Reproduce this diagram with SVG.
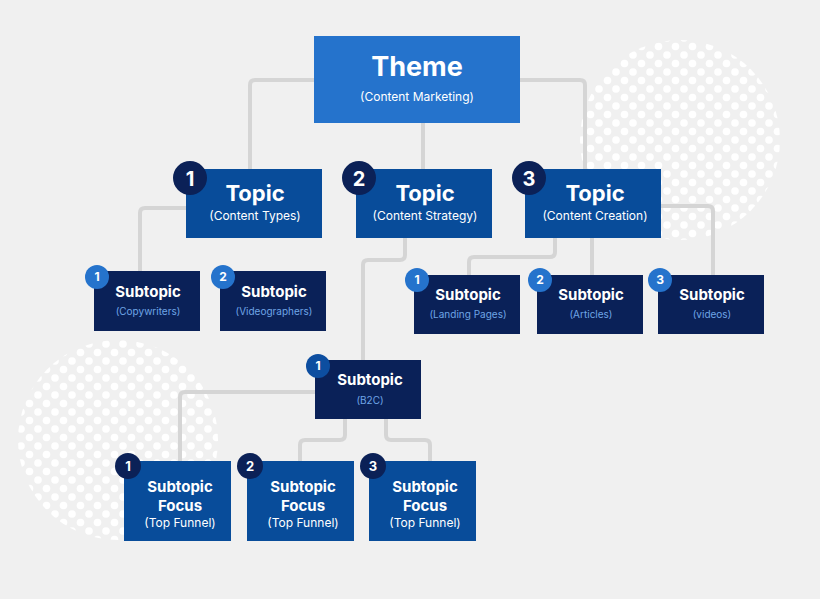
<svg xmlns="http://www.w3.org/2000/svg" width="820" height="599" viewBox="0 0 820 599">
<style>
.c{fill:none;stroke:#d5d5d5;stroke-width:4;stroke-linejoin:round}
.t{font-family:Inter,"Liberation Sans",sans-serif;fill:#fff;text-anchor:middle;font-weight:700}
.s{font-family:Inter,"Liberation Sans",sans-serif;fill:#fff;text-anchor:middle;font-size:12px}
.l{font-family:Inter,"Liberation Sans",sans-serif;fill:#6fa5e6;text-anchor:middle;font-size:10px}
.n{font-family:Inter,"Liberation Sans",sans-serif;fill:#fff;text-anchor:middle;font-weight:700}
.topic{fill:#084c9a}.sub{fill:#0a2158}.dk{fill:#0b2157}.bl{fill:#2573cc}
</style>
<defs>
<pattern id="dots" width="17" height="17" patternUnits="userSpaceOnUse">
<circle cx="4" cy="4" r="3.8" fill="#fff"/><circle cx="12.5" cy="12.5" r="3.8" fill="#fff"/>
</pattern>
</defs>
<rect width="820" height="599" fill="#f0f0f0"/>
<circle cx="680" cy="140" r="100" fill="url(#dots)"/>
<circle cx="118" cy="440" r="100" fill="url(#dots)"/>
<g id="connectors">
<path class="c" d="M314 80 H255 Q250 80 250 85 V169"/>
<path class="c" d="M520 80 H580 Q585 80 585 85 V169"/>
<path class="c" d="M423 123 V169"/>
<path class="c" d="M186 208 H145 Q140 208 140 213 V271"/>
<path class="c" d="M405 238 V255 Q405 260 400 260 H368 Q363 260 363 265 V360"/>
<path class="c" d="M555 238 V252 Q555 257 550 257 H474 Q469 257 469 262 V275"/>
<path class="c" d="M592 238 V275"/>
<path class="c" d="M661 206 H708 Q713 206 713 211 V275"/>
<path class="c" d="M315 392 H185 Q180 392 180 397 V461"/>
<path class="c" d="M345 419 V435 Q345 440 340 440 H305 Q300 440 300 445 V461"/>
<path class="c" d="M386 419 V435 Q386 440 391 440 H425 Q430 440 430 445 V461"/>
</g>
<g id="theme"><rect x="314" y="36" width="206" height="87" class="bl"/>
<text class="t" x="417" y="76" font-size="27">Theme</text>
<text class="s" x="417" y="101" font-size="14" fill="#e6eefa">(Content Marketing)</text></g>
<g id="topic1"><rect x="186" y="169" width="136" height="69" class="topic"/>
<text class="t" x="255" y="201" font-size="22">Topic</text><text class="s" x="255" y="220">(Content Types)</text>
<circle cx="190" cy="178" r="17" class="dk"/><text class="n" x="190" y="186" font-size="20">1</text></g>
<g id="topic2"><rect x="356" y="169" width="136" height="69" class="topic"/>
<text class="t" x="425" y="201" font-size="22">Topic</text><text class="s" x="425" y="220">(Content Strategy)</text>
<circle cx="359" cy="178" r="17" class="dk"/><text class="n" x="359" y="186" font-size="20">2</text></g>
<g id="topic3"><rect x="525" y="169" width="136" height="69" class="topic"/>
<text class="t" x="595" y="201" font-size="22">Topic</text><text class="s" x="595" y="220">(Content Creation)</text>
<circle cx="529" cy="178" r="17" class="dk"/><text class="n" x="529" y="186" font-size="20">3</text></g>
<g id="sub-copy"><rect x="94" y="271" width="106" height="60" class="sub"/>
<text class="t" x="148" y="297" font-size="15">Subtopic</text><text class="l" x="148" y="315">(Copywriters)</text>
<circle cx="97" cy="277" r="12" class="bl"/><text class="n" x="97" y="281" font-size="12">1</text></g>
<g id="sub-video"><rect x="220" y="271" width="106" height="60" class="sub"/>
<text class="t" x="274" y="297" font-size="15">Subtopic</text><text class="l" x="274" y="315">(Videographers)</text>
<circle cx="223" cy="277" r="12" class="bl"/><text class="n" x="223" y="281" font-size="12">2</text></g>
<g id="sub-landing"><rect x="414" y="275" width="106" height="59" class="sub"/>
<text class="t" x="468" y="300" font-size="15">Subtopic</text><text class="l" x="468" y="318">(Landing Pages)</text>
<circle cx="417" cy="280" r="12" class="bl"/><text class="n" x="417" y="284" font-size="12">1</text></g>
<g id="sub-articles"><rect x="537" y="275" width="106" height="59" class="sub"/>
<text class="t" x="591" y="300" font-size="15">Subtopic</text><text class="l" x="591" y="318">(Articles)</text>
<circle cx="540" cy="280" r="12" class="bl"/><text class="n" x="540" y="284" font-size="12">2</text></g>
<g id="sub-videos"><rect x="658" y="275" width="106" height="59" class="sub"/>
<text class="t" x="712" y="300" font-size="15">Subtopic</text><text class="l" x="712" y="318">(videos)</text>
<circle cx="660" cy="280" r="12" class="bl"/><text class="n" x="660" y="284" font-size="12">3</text></g>
<g id="sub-b2c"><rect x="315" y="360" width="106" height="59" class="sub"/>
<text class="t" x="370" y="385" font-size="15">Subtopic</text><text class="l" x="370" y="404">(B2C)</text>
<circle cx="318" cy="366" r="12" fill="#0d4ea0"/><text class="n" x="318" y="370" font-size="12">1</text></g>
<g id="focus1"><rect x="124" y="461" width="107" height="80" class="topic"/>
<text class="t" x="180" y="492" font-size="15">Subtopic</text><text class="t" x="180" y="511" font-size="15">Focus</text><text class="s" x="180" y="527" font-size="10.5">(Top Funnel)</text>
<circle cx="128" cy="466" r="13" class="dk"/><text class="n" x="128" y="471" font-size="13">1</text></g>
<g id="focus2"><rect x="247" y="461" width="107" height="80" class="topic"/>
<text class="t" x="303" y="492" font-size="15">Subtopic</text><text class="t" x="303" y="511" font-size="15">Focus</text><text class="s" x="303" y="527" font-size="10.5">(Top Funnel)</text>
<circle cx="250" cy="466" r="13" class="dk"/><text class="n" x="250" y="471" font-size="13">2</text></g>
<g id="focus3"><rect x="369" y="461" width="107" height="80" class="topic"/>
<text class="t" x="425" y="492" font-size="15">Subtopic</text><text class="t" x="425" y="511" font-size="15">Focus</text><text class="s" x="425" y="527" font-size="10.5">(Top Funnel)</text>
<circle cx="373" cy="466" r="13" class="dk"/><text class="n" x="373" y="471" font-size="13">3</text></g>
</svg>
